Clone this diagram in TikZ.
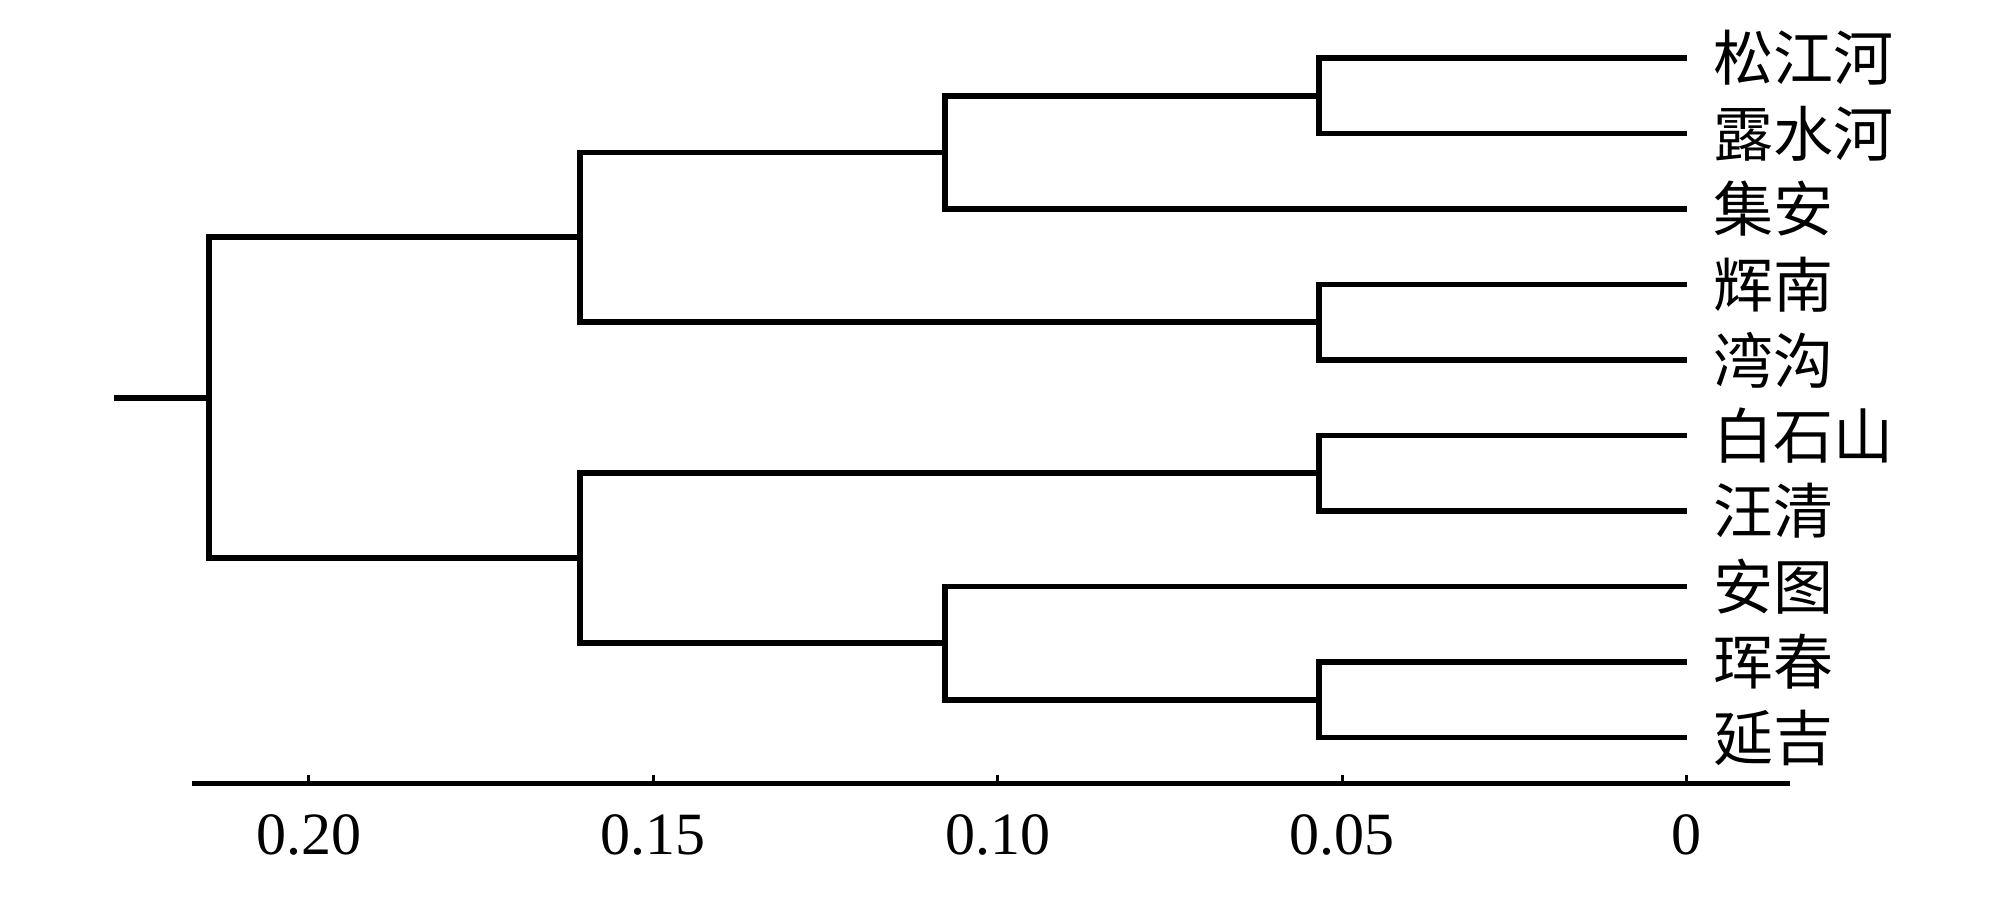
\documentclass[tikz,border=0pt]{standalone}
\usepackage{fontspec}
\setmainfont{Liberation Serif}
\newfontfamily\cjk{Noto Sans CJK SC}
\definecolor{dgInk}{HTML}{000000}
\tikzset{
  dg link/.style={draw=dgInk, line width=2.8pt},
  dg axis/.style={draw=dgInk, line width=2.5pt},
  dg tick/.style={draw=dgInk, line width=1.5pt},
  dg leaf/.style={anchor=west, inner sep=0pt, font=\cjk\fontsize{30pt}{30pt}\selectfont, text=dgInk},
  dg num/.style={inner sep=0pt, font=\fontsize{30pt}{30pt}\selectfont, text=dgInk},
}
\begin{document}
\begin{tikzpicture}[x={(-34.45pt,0pt)},y={(0pt,-37.75pt)}]
  \useasboundingbox (24.485,-0.768) rectangle (-4.659,11.126);
  % leaves
  \foreach \t [count=\i from 0] in {松江河,露水河,集安,辉南,湾沟,白石山,汪清,安图,珲春,延吉}{\coordinate (e\i) at (0,\i);\node[dg leaf] (n\i) at (-0.38,\i) {\t};}
  % merge points
  \coordinate (A) at (5.34,0.5);
  \coordinate (B) at (10.77,1.25);
  \coordinate (C) at (5.34,3.5);
  \coordinate (D) at (16.07,2.375);
  \coordinate (E) at (5.34,5.5);
  \coordinate (F) at (5.34,8.5);
  \coordinate (G) at (10.77,7.75);
  \coordinate (H) at (16.07,6.625);
  \coordinate (R) at (21.45,4.5);
  \coordinate (stub) at (22.83,4.5);
  \draw[dg link] (e0) -| (A) |- (e1);
  \draw[dg link] (A) -| (B) |- (e2);
  \draw[dg link] (e3) -| (C) |- (e4);
  \draw[dg link] (B) -| (D) |- (C);
  \draw[dg link] (e5) -| (E) |- (e6);
  \draw[dg link] (e8) -| (F) |- (e9);
  \draw[dg link] (e7) -| (G) |- (F);
  \draw[dg link] (E) -| (H) |- (G);
  \draw[dg link] (D) -| (R) |- (H);
  \draw[dg link] (stub) -- (R);
  % scale
  \coordinate (axL) at (21.70,9.616);
  \coordinate (axR) at (-1.495,9.616);
  \draw[dg axis] (axL) -- (axR);
  \foreach \v/\l in {20/0.20,15/0.15,10/0.10,5/0.05,0/0}{\draw[dg tick] (\v,9.616) -- ++(0,-0.12);\node[dg num] (t\v) at (\v,10.29) {\l};}
\end{tikzpicture}
\end{document}
